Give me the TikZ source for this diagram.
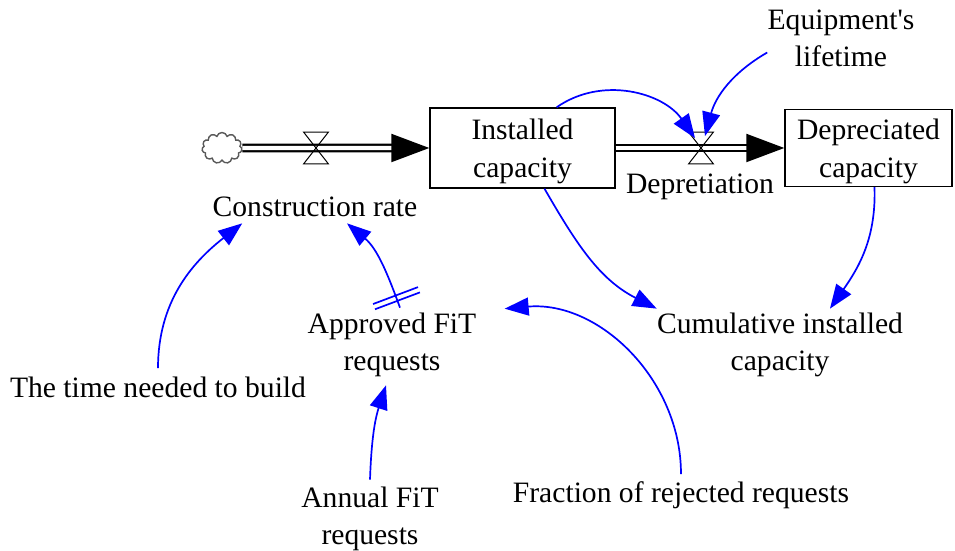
\documentclass[tikz,border=0pt]{standalone}
\usepackage{fontspec}
\setmainfont{Liberation Serif}
\usepackage{tikz}
\usetikzlibrary{positioning}
\usetikzlibrary{shapes.symbols}
\usetikzlibrary{arrows.meta}
\usetikzlibrary{decorations.markings}

\begin{document}
\begin{tikzpicture}[x=0.5pt, y=-0.5pt,
        font=\fontsize{14.8pt}{18.5pt}\selectfont,
        var/.style={align=center, inner sep=0pt},
        stock/.style={draw, line width=0.7pt, align=center, inner sep=0pt, font=\fontsize{14.8pt}{19pt}\selectfont, text height=32.5pt},
        pipe/.style={double, line width=1.1pt, double distance=2.2pt, -{Triangle[length=19pt, width=14pt]}},
        link/.style={blue, line width=0.85pt, -{Triangle[length=12pt, width=9pt]}},
        valve/.style={minimum width=12pt, minimum height=15.5pt, inner sep=0pt},
        delay/.style={postaction={decorate, decoration={markings, mark=at position 0.1 with {\draw[-, line width=0.85pt] (-1.4pt,-12pt) -- (-1.4pt,12pt) (1.4pt,-12pt) -- (1.4pt,12pt);}}}}]
        \useasboundingbox (0,0) rectangle (955,551);
        % stocks and the source
        \node[cloud, cloud puffs=11, draw=black!65, line width=0.7pt, minimum width=20pt, minimum height=15.5pt, inner sep=0pt] (src) at (222,148) {};
        \node[stock, minimum width=92.5pt, minimum height=40pt] (inst) at (522.5,148) {Installed\\capacity};
        \node[stock, minimum width=83.5pt, minimum height=38.5pt] (dep) at (868.5,148) {Depreciated\\capacity};
        % flows
        \draw[pipe] (src) -- (inst);
        \draw[pipe] (inst) -- (dep);
        \foreach \v/\x in {v1/316, v2/701}
        {
            \node[valve] (\v) at (\x,148) {};
            \draw[line width=0.5pt] (\v.north west) -- (\v.north east) -- (\v.south west) -- (\v.south east) -- cycle;
        }
        % variables
        \foreach \n/\x/\y/\t in {constr/315/207/{Construction rate}, depr/700/187/{Depretiation},
            life/841/38.5/{Equipment\textquotesingle s\\lifetime}, cum/780/345/{Cumulative installed\\capacity},
            appr/392/345/{Approved FiT\\requests}, time/158/387/{The time needed to build},
            annual/370/519/{Annual FiT\\requests}, frac/681/495/{Fraction of rejected requests}}
            \node[var] (\n) at (\x,\y) {\t};
        % links
        \draw[link] (inst.50) to[out=35, in=125] ([xshift=-3pt, yshift=-3pt]v2.north);
        \draw[link] ([yshift=-7pt]life.west) to[out=210, in=75] ([xshift=2pt, yshift=-2pt]v2.north);
        \draw[link] ([xshift=11pt]inst.south) to[out=-60, in=153] ([yshift=2pt]cum.north west);
        \draw[link] ([xshift=3pt]dep.south) to[out=-88, in=55] ([xshift=25pt, yshift=2pt]cum.north);
        \draw[link] ([yshift=3.5pt]frac.north) to[out=90, in=5] ([xshift=14pt, yshift=2pt]appr.north east);
        \draw[link] ([yshift=3.5pt]annual.north) to[out=88, in=-108] ([xshift=-3pt, yshift=-4pt]appr.south);
        \draw[link] ([yshift=4pt]time.north) to[out=90, in=-142] ([xshift=15pt, yshift=-3pt]constr.south west);
        \draw[link, delay] ([xshift=4pt, yshift=2.5pt]appr.north) to[out=110, in=-40] ([xshift=16pt, yshift=-3pt]constr.south);
\end{tikzpicture}
\end{document}
